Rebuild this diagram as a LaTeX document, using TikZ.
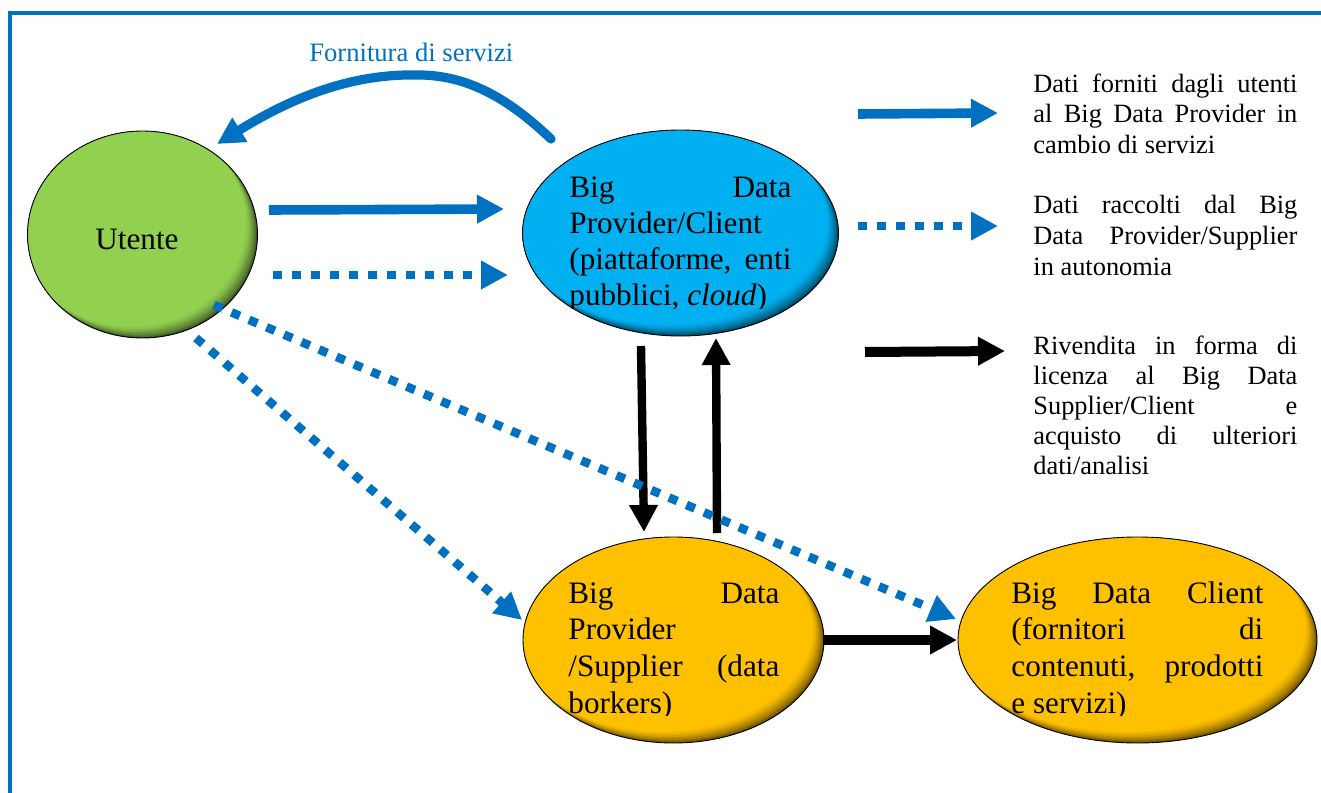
\documentclass[tikz,border=0pt]{standalone}
\usepackage{fontspec}
\setmainfont{Liberation Serif}
\usetikzlibrary{arrows.meta,shapes.geometric}
\definecolor{ublue}{HTML}{0070C0}
\definecolor{ugreen}{HTML}{92D050}
\definecolor{ucyan}{HTML}{00B0F0}
\definecolor{uorange}{HTML}{FFC000}
\newcommand\jl[1]{\makebox[\linewidth][s]{#1}}
\newcommand\ishadow[5]{%
  \begin{scope}
    \clip (#1,#2) ellipse [x radius=#3, y radius=#4];
    \fill[#5!40!black] (#1,#2) ellipse [x radius=#3, y radius=#4];
    \foreach \s/\m in {1/50,2/58,3/66,4.5/74,6/82,7.5/89,9/95,11/100}{
      \fill[#5!\m!black] (#1-\s,#2-\s) ellipse [x radius=#3, y radius=#4];
    }
  \end{scope}}
\tikzset{
  ell/.style={ellipse, draw=black, line width=0.45pt, inner sep=0pt, outer sep=0pt},
  tipT/.style={-{Triangle[length=13.5pt,width=13.5pt]}},
  bsolid/.style={draw=ublue, line width=4.8pt, tipT},
  bdot/.style={draw=ublue, line width=4.3pt, dash pattern=on 4.5pt off 5pt, tipT},
  kthick/.style={draw=black, line width=5pt, tipT},
  kthin/.style={draw=black, line width=4.2pt, tipT},
  txt/.style={inner sep=0pt, anchor=base west},
}
\begin{document}
\begin{tikzpicture}[x=0.5pt,y=-0.5pt]
\useasboundingbox (0,0) rectangle (1321,792);
% frame
\draw[ublue, line width=2.4pt] (10,812) -- (10,13) -- (1340,13);

% ellipses
\ishadow{142.5}{234.5}{115}{103.5}{ugreen}
\node[ell, minimum width=115pt, minimum height=103.5pt] (utente) at (142.5,234.5) {};
\ishadow{680.5}{233}{158}{103}{ucyan}
\node[ell, minimum width=158pt, minimum height=103pt] (bdpc) at (680.5,233) {};
\ishadow{673.5}{640}{150.5}{103}{uorange}
\node[ell, minimum width=150.5pt, minimum height=103pt] (bdps) at (673.5,640) {};
\ishadow{1137.5}{640}{179.5}{103}{uorange}
\node[ell, minimum width=179.5pt, minimum height=103pt] (bdc) at (1137.5,640) {};

% ellipse texts
\node[inner sep=0pt, anchor=base, font=\fontsize{15.6pt}{18pt}\selectfont] (utentelbl) at (137,249) {Utente};
\begin{scope}
  \clip (555,150) rectangle (805,308);
  \node[txt] (bdpctxt) at (569,197) {\parbox[t]{111pt}{\fontsize{15.6pt}{18.15pt}\selectfont
    \jl{Big Data}\\Provider/Client\\\jl{(piattaforme, enti}\\pubblici, \textit{cloud})}};
\end{scope}
\begin{scope}
  \clip (555,560) rectangle (795,715);
  \node[txt] (bdpstxt) at (568,603) {\parbox[t]{105.5pt}{\fontsize{15.6pt}{18.35pt}\selectfont
    \jl{Big Data}\\Provider\\\jl{/Supplier (data}\\borkers)}};
\end{scope}
\begin{scope}
  \clip (1000,560) rectangle (1280,715);
  \node[txt] (bdctxt) at (1011,603) {\parbox[t]{126pt}{\fontsize{15.6pt}{18.35pt}\selectfont
    \jl{Big Data Client}\\\jl{(fornitori di}\\\jl{contenuti, prodotti}\\e servizi)}};
\end{scope}

% connector end points
\coordinate (a1) at (269,210); \coordinate (a2) at (504,209);
\coordinate (b1) at (273,275); \coordinate (b2) at (508,275);
\coordinate (c1) at (551,139); \coordinate (c2) at (217,144);
\coordinate (d1) at (196,338); \coordinate (d2) at (522,620);
\coordinate (e1) at (214,305); \coordinate (e2) at (956,619);
\coordinate (f1) at (641,346); \coordinate (f2) at (644,532);
\coordinate (g1) at (717,533); \coordinate (g2) at (716,338);
\coordinate (h1) at (823,640); \coordinate (h2) at (957,640);
\coordinate (l1a) at (858,114); \coordinate (l1b) at (998,113);
\coordinate (l2a) at (858,226); \coordinate (l2b) at (998,226);
\coordinate (l3a) at (865,352); \coordinate (l3b) at (1005,351);

% black arrows
\draw[kthin] (f1) -- (f2);
\draw[kthin] (g1) -- (g2);
\draw[kthick] (h1) -- (h2);
\draw[kthick] (l3a) -- (l3b);

% blue arrows
\draw[bsolid] (a1) -- (a2);
\draw[bdot] (b1) -- (b2);
\draw[bdot] (d1) -- (d2);
\draw[bdot] (e1) -- (e2);
\draw[bsolid] (l1a) -- (l1b);
\draw[bdot] (l2a) -- (l2b);
\draw[draw=ublue, line width=4.6pt, line cap=round, tipT]
  (c1) .. controls (510,100) and (470,76) .. (421,75)
       .. controls (380,74) and (320,80) .. (c2);

% labels
\node[txt, text=ublue, font=\fontsize{13.3pt}{16pt}\selectfont] (fornlbl) at (309,62) {Fornitura di servizi};
\node[txt] (leg1) at (1033,92) {\parbox[t]{132pt}{\fontsize{13.2pt}{15.35pt}\selectfont
  \jl{Dati forniti dagli utenti}\\\jl{al Big Data Provider in}\\cambio di servizi}};
\node[txt] (leg2) at (1033,213) {\parbox[t]{132pt}{\fontsize{13.2pt}{15.5pt}\selectfont
  \jl{Dati raccolti dal Big}\\\jl{Data Provider/Supplier}\\in autonomia}};
\node[txt] (leg3) at (1033,354) {\parbox[t]{132pt}{\fontsize{13.2pt}{15pt}\selectfont
  \jl{Rivendita in forma di}\\\jl{licenza al Big Data}\\\jl{Supplier/Client e}\\\jl{acquisto di ulteriori}\\dati/analisi}};
\end{tikzpicture}
\end{document}
